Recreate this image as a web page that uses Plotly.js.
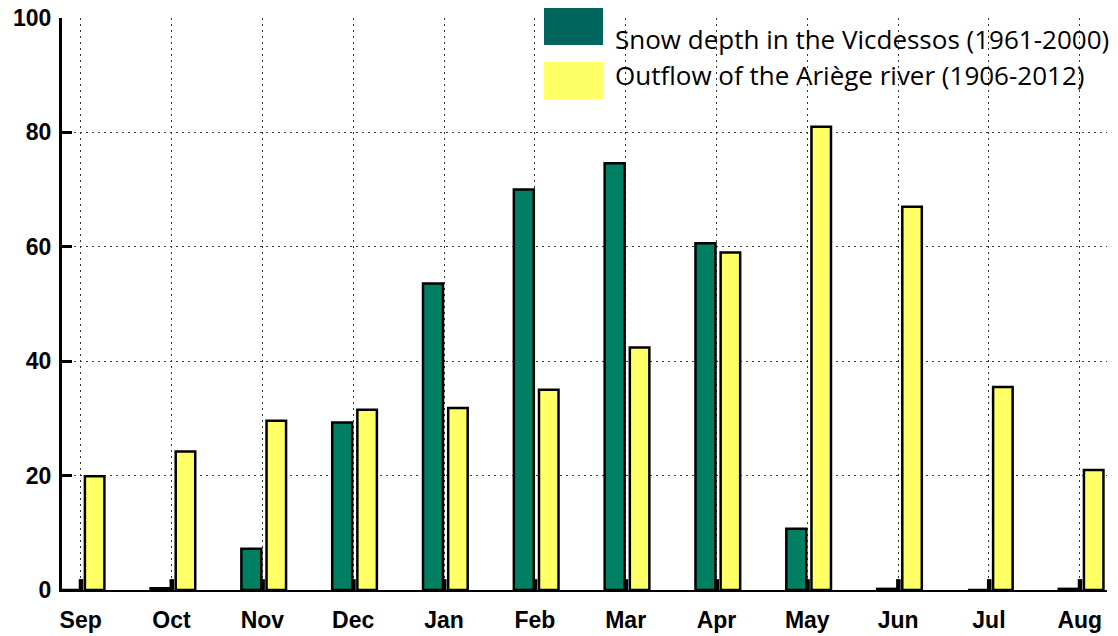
<!DOCTYPE html>
<html>
<head>
<meta charset="utf-8">
<script src="https://cdn.plot.ly/plotly-3.0.1.min.js"></script>
<style>html,body{margin:0;padding:0;background:#fff;}#chart{width:1118px;height:636px;}</style>
</head>
<body>
<div id="chart"></div>
<script>
const months = ["Sep","Oct","Nov","Dec","Jan","Feb","Mar","Apr","May","Jun","Jul","Aug"];
const snowDepth = [0, 0.3, 7.2, 29.3, 53.6, 70.0, 74.6, 60.6, 10.7, 0.2, 0, 0.2];
const outflow = [19.9, 24.2, 29.6, 31.5, 31.8, 35.0, 42.4, 59.0, 81.0, 67.0, 35.5, 21.0];
const baseMarks = [1.9, 1.9, 1.9, 1.9, 1.9, 1.9, 1.9, 1.9, 1.9, 1.9, 1.9, 1.9];
const yTicks = [0, 20, 40, 60, 80, 100];
const legendLabels = ["Snow depth in the Vicdessos (1961-2000)", "Outflow of the Ariège river (1906-2012)"];

const green = "#007F62";
const yellow = "#FFFF66";

const traces = [
  {type:"bar", x:months, y:snowDepth, offset:-0.231, width:0.22,
   marker:{color:green, line:{color:"#000", width:2.5}}, showlegend:false, hoverinfo:"skip"},
  {type:"bar", x:months, y:baseMarks, offset:-0.022, width:0.05,
   marker:{color:"#000", line:{color:"#000", width:0}}, showlegend:false, hoverinfo:"skip"},
  {type:"bar", x:months, y:outflow, offset:0.046, width:0.215,
   marker:{color:yellow, line:{color:"#000", width:2.5}}, showlegend:false, hoverinfo:"skip"}
];

const tickFont = {family:"Liberation Sans, Arial, sans-serif", size:23, color:"#000", weight:"bold"};

const layout = {
  width:1118, height:636,
  margin:{l:62, r:11, t:18, b:46},
  paper_bgcolor:"#fff", plot_bgcolor:"#fff",
  barmode:"overlay",
  showlegend:false,
  xaxis:{
    type:"category", range:[-0.206, 11.30],
    showline:true, linecolor:"#000", linewidth:2,
    ticks:"", showgrid:true, gridcolor:"#333", gridwidth:1, griddash:"2px,4px",
    tickfont:tickFont, ticklabelstandoff:8, zeroline:false, fixedrange:true
  },
  yaxis:{
    range:[0,100], tickvals:yTicks, ticktext:yTicks.map(String),
    showline:true, linecolor:"#000", linewidth:3,
    ticks:"inside", ticklen:10, tickwidth:3, tickcolor:"#000",
    showgrid:true, gridcolor:"#333", gridwidth:1, griddash:"2px,4px",
    tickfont:tickFont, ticklabelstandoff:3, zeroline:false, fixedrange:true
  },
  shapes:[
    {type:"rect", xref:"paper", yref:"paper", x0:(544-62)/1045, x1:(603-62)/1045,
     y0:(590-45)/572, y1:(590-8)/572, fillcolor:"#00665E", line:{width:0}},
    {type:"rect", xref:"paper", yref:"paper", x0:(544-62)/1045, x1:(603-62)/1045,
     y0:(590-99)/572, y1:(590-62)/572, fillcolor:yellow, line:{width:0}}
  ],
  annotations:[
    {xref:"paper", yref:"paper", x:(613-62)/1045, y:(590-39)/572, xanchor:"left", yanchor:"middle",
     text:legendLabels[0], showarrow:false, font:{family:"Open Sans, sans-serif", size:26, color:"#000"}},
    {xref:"paper", yref:"paper", x:(613-62)/1045, y:(590-75)/572, xanchor:"left", yanchor:"middle",
     text:legendLabels[1], showarrow:false, font:{family:"Open Sans, sans-serif", size:26, color:"#000"}}
  ]
};

Plotly.newPlot("chart", traces, layout, {displayModeBar:false, staticPlot:true});
</script>
</body>
</html>
